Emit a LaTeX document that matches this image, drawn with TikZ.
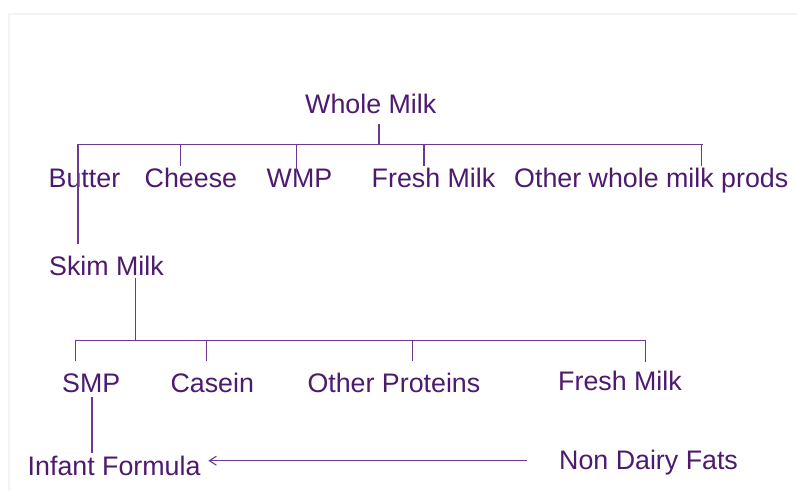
\documentclass[tikz,border=0pt]{standalone}
\usepackage{fontspec}
\setmainfont{Liberation Sans}
\usetikzlibrary{arrows.meta}
\definecolor{txtc}{RGB}{78,26,110}
\definecolor{linec}{RGB}{110,55,145}
\definecolor{framec}{RGB}{244,244,244}
\begin{document}
\begin{tikzpicture}[x=1pt,y=-1pt,
  lbl/.style={inner sep=0pt, anchor=base west, text=txtc, font=\fontsize{26.8}{32}\selectfont},
  ln/.style={draw=linec, line width=1.2pt},
  arr/.style={ln, -{Straight Barb[length=7pt,width=9pt,line width=1.1pt]}}]
\useasboundingbox (0,0) rectangle (797,491);
\fill[white] (0,0) rectangle (797,491);
\draw[framec, line width=2pt] (9,491) -- (9,14) -- (797,14);

% texts
\node[lbl] (wm) at (305,113) {Whole Milk};
\node[lbl] (butter) at (48.5,187.3) {Butter};
\node[lbl] (cheese) at (144.5,187.3) {Cheese};
\node[lbl] (wmp) at (266.5,187.3) {WMP};
\node[lbl] (fresh1) at (371.5,187.3) {Fresh Milk};
\node[lbl] (other) at (514,187.3) {Other whole milk prods};
\node[lbl] (skim) at (49,275) {Skim Milk};
\node[lbl] (smp) at (62,392.3) {SMP};
\node[lbl] (casein) at (170.3,392.3) {Casein};
\node[lbl] (otherp) at (307.3,392.3) {Other Proteins};
\node[lbl] (fresh2) at (558,390) {Fresh Milk};
\node[lbl] (infant) at (27.5,475.7) {Infant Formula};
\node[lbl] (ndf) at (559,469.3) {Non Dairy Fats};

% connector end points
\coordinate (wmT) at (379,124);
\coordinate (busAL) at (78,144.3);
\coordinate (busAR) at (703,144.3);
\coordinate (butB) at (78,244);
\coordinate (cheT) at (180.3,165.7);
\coordinate (wmpT) at (296.7,172);
\coordinate (frT) at (424,166);
\coordinate (othT) at (701.7,166);
\coordinate (skimB) at (135.7,278);
\coordinate (busBL) at (74.7,340.7);
\coordinate (busBR) at (645.6,340.7);
\coordinate (smpT) at (75.2,361);
\coordinate (casT) at (206.4,361);
\coordinate (opT) at (412.8,361);
\coordinate (fr2T) at (645.6,362);
\coordinate (smpB) at (92,396.7);
\coordinate (infT) at (92,453.3);
\coordinate (arrS) at (527,460.7);
\coordinate (arrE) at (208.4,460.7);

% tree connectors
\draw[ln] (busAL) -- (busAR);
\draw[ln] (wmT) -- (wmT |- busAL);
\draw[ln] (busAL) -- (butB);
\draw[ln] (cheT |- busAL) -- (cheT);
\draw[ln] (wmpT |- busAL) -- (wmpT);
\draw[ln] (frT |- busAL) -- (frT);
\draw[ln] (othT |- busAL) -- (othT);
\draw[ln] (skimB) -- (skimB |- busBL);
\draw[ln] (busBL) -- (busBR);
\draw[ln] (smpT |- busBL) -- (smpT);
\draw[ln] (casT |- busBL) -- (casT);
\draw[ln] (opT |- busBL) -- (opT);
\draw[ln] (fr2T |- busBL) -- (fr2T);
\draw[ln] (smpB) -- (infT);
\draw[arr] (arrS) -- (arrE);
\end{tikzpicture}
\end{document}
